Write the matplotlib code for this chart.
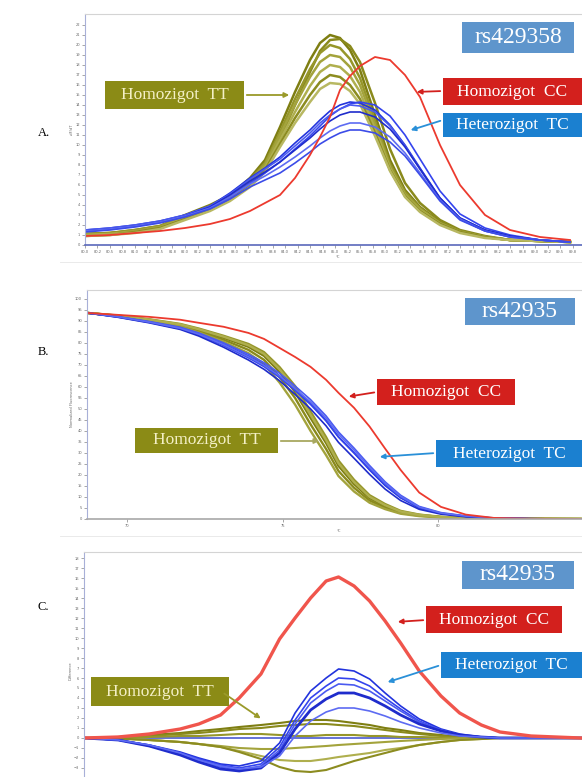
import numpy as np
import matplotlib
matplotlib.use('Agg')
from matplotlib import pyplot as plt
from matplotlib.patches import Rectangle, FancyArrowPatch

W, H = 582, 777

# ---------- panel A : derivative melt curves, rs429358
temp_a = [80.0, 80.5, 81.0, 81.5, 82.0, 82.5, 82.9, 83.3, 83.6, 83.9, 84.2, 84.5, 84.7, 84.9,
          85.1, 85.3, 85.5, 85.8, 86.1, 86.4, 86.7, 87.1, 87.5, 88.0, 88.5, 89.1, 89.7]
tt_a = [
    [1.1, 1.2, 1.5, 1.9, 3.0, 4.0, 5.0, 6.7, 8.5, 11.8, 15.3, 18.5, 20.2, 21.0, 20.7, 19.5, 17.5, 13.0, 8.5, 5.5, 3.8, 2.3, 1.4, 0.8, 0.5, 0.4, 0.3],
    [1.1, 1.2, 1.4, 1.8, 2.7, 3.7, 4.6, 6.1, 7.8, 10.6, 14.0, 17.3, 19.4, 20.5, 20.6, 19.9, 18.3, 14.2, 9.6, 6.2, 4.2, 2.5, 1.5, 0.9, 0.5, 0.4, 0.3],
    [1.1, 1.2, 1.5, 1.9, 2.9, 3.9, 4.9, 6.5, 8.2, 11.3, 14.6, 17.6, 19.2, 20.0, 19.7, 18.6, 16.7, 12.4, 8.1, 5.3, 3.7, 2.2, 1.4, 0.8, 0.5, 0.4, 0.3],
    [1.0, 1.1, 1.4, 1.8, 2.8, 3.8, 4.8, 6.4, 8.0, 11.0, 14.0, 16.8, 18.3, 19.0, 18.8, 17.8, 16.0, 12.0, 7.8, 5.1, 3.6, 2.2, 1.3, 0.8, 0.5, 0.4, 0.3],
    [1.0, 1.1, 1.3, 1.7, 2.7, 3.6, 4.6, 6.1, 7.7, 10.5, 13.3, 15.9, 17.3, 18.0, 17.8, 16.9, 15.3, 11.6, 7.7, 5.0, 3.5, 2.1, 1.3, 0.8, 0.5, 0.4, 0.3],
    [0.9, 1.0, 1.3, 1.7, 2.6, 3.5, 4.5, 6.0, 7.5, 10.1, 12.7, 15.0, 16.3, 17.0, 16.8, 16.0, 14.6, 11.2, 7.5, 4.9, 3.4, 2.1, 1.3, 0.8, 0.5, 0.4, 0.3],
    [0.9, 1.0, 1.2, 1.6, 2.5, 3.4, 4.4, 5.8, 7.3, 9.8, 12.2, 14.3, 15.6, 16.2, 16.1, 15.4, 14.1, 10.9, 7.4, 4.8, 3.3, 2.0, 1.2, 0.7, 0.5, 0.4, 0.3],
]
tc_a = [
    [1.5, 1.7, 2.0, 2.4, 3.0, 3.9, 5.2, 6.7, 7.7, 8.8, 10.2, 11.5, 12.5, 13.4, 14.0, 14.3, 14.2, 13.5, 12.0, 10.0, 7.7, 4.7, 2.7, 1.5, 0.9, 0.5, 0.3],
    [1.4, 1.6, 1.9, 2.3, 2.9, 3.7, 4.8, 6.2, 7.2, 8.3, 9.6, 10.9, 11.9, 12.9, 13.6, 14.1, 14.3, 14.0, 12.9, 11.0, 8.6, 5.4, 3.1, 1.7, 1.0, 0.5, 0.3],
    [1.5, 1.7, 2.0, 2.4, 3.0, 3.9, 5.1, 6.6, 7.6, 8.6, 9.9, 11.2, 12.2, 13.0, 13.6, 14.0, 13.9, 13.3, 11.9, 9.9, 7.6, 4.6, 2.6, 1.4, 0.8, 0.5, 0.3],
    [1.4, 1.6, 1.9, 2.3, 2.9, 3.8, 5.0, 6.4, 7.3, 8.3, 9.5, 10.7, 11.6, 12.4, 13.0, 13.3, 13.3, 12.8, 11.6, 9.8, 7.6, 4.7, 2.7, 1.5, 0.9, 0.5, 0.3],
    [1.4, 1.6, 1.9, 2.3, 2.9, 3.7, 4.8, 6.1, 6.9, 7.8, 8.8, 9.9, 10.7, 11.4, 11.9, 12.2, 12.2, 11.8, 10.8, 9.2, 7.2, 4.5, 2.6, 1.4, 0.8, 0.5, 0.3],
    [1.3, 1.5, 1.8, 2.2, 2.8, 3.6, 4.6, 5.8, 6.5, 7.2, 8.2, 9.3, 10.1, 10.7, 11.2, 11.5, 11.5, 11.2, 10.3, 8.9, 7.0, 4.4, 2.5, 1.4, 0.8, 0.5, 0.3],
]
cc_a = [0.9, 1.0, 1.2, 1.4, 1.7, 2.1, 2.6, 3.4, 4.2, 5.0, 6.7, 9.0, 10.8, 12.8, 15.5, 16.9, 17.9, 18.8, 18.5, 17.0, 14.8, 10.0, 6.0, 3.0, 1.5, 0.8, 0.5]

# ---------- panel B : normalized melt curves, rs42935
temp_b = [68.7, 69.7, 70.7, 71.7, 72.3, 73.1, 73.9, 74.4, 74.9, 75.4, 75.9, 76.4,
          76.8, 77.3, 77.8, 78.3, 78.8, 79.4, 80.1, 80.9, 81.8, 83.0, 84.6]
tt_b = [
    [93.6, 92.3, 90.5, 88.2, 85.9, 82.3, 78.2, 74.1, 66.8, 57.7, 45.9, 34.5, 24.1, 15.9, 9.5, 5.9, 3.2, 1.8, 0.9, 0.5, 0.2, 0.1, 0.0],
    [93.6, 92.2, 90.3, 87.8, 85.3, 81.4, 76.8, 72.3, 64.5, 55.0, 43.0, 31.8, 21.8, 14.2, 8.4, 5.1, 2.8, 1.5, 0.8, 0.4, 0.2, 0.1, 0.0],
    [93.6, 92.4, 90.7, 88.6, 86.5, 83.2, 79.5, 75.8, 69.0, 60.4, 48.8, 37.2, 26.5, 17.8, 10.8, 6.8, 3.7, 2.0, 1.0, 0.5, 0.2, 0.1, 0.0],
    [93.6, 92.1, 90.1, 87.4, 84.7, 80.5, 75.3, 70.4, 62.0, 52.0, 40.0, 29.0, 19.5, 12.5, 7.4, 4.5, 2.4, 1.3, 0.7, 0.3, 0.1, 0.0, 0.0],
    [93.6, 92.3, 90.6, 88.4, 86.2, 82.8, 78.9, 75.0, 68.0, 59.0, 47.3, 35.8, 25.3, 16.8, 10.1, 6.3, 3.4, 1.9, 0.9, 0.4, 0.2, 0.1, 0.0],
]
tc_b = [
    [93.6, 91.8, 89.5, 86.8, 84.1, 79.5, 74.0, 70.0, 65.0, 59.0, 52.5, 44.8, 37.3, 30.0, 22.3, 15.2, 9.6, 5.0, 2.5, 1.2, 0.4, 0.1, 0.0],
    [93.6, 91.7, 89.3, 86.4, 83.6, 78.8, 73.2, 69.2, 64.3, 58.4, 52.0, 44.5, 37.2, 30.1, 22.6, 15.6, 9.9, 5.2, 2.6, 1.2, 0.4, 0.1, 0.0],
    [93.6, 91.9, 89.7, 87.1, 84.5, 80.0, 74.8, 71.0, 66.2, 60.4, 54.2, 46.8, 39.5, 32.2, 24.3, 16.9, 10.8, 5.7, 2.9, 1.4, 0.5, 0.1, 0.0],
    [93.6, 91.6, 89.1, 86.1, 83.1, 78.0, 72.2, 68.0, 62.8, 56.6, 50.0, 42.3, 34.8, 27.6, 20.3, 13.6, 8.4, 4.4, 2.2, 1.0, 0.3, 0.1, 0.0],
    [93.6, 91.8, 89.4, 86.6, 83.9, 79.2, 73.7, 69.8, 65.0, 59.2, 53.1, 45.8, 38.5, 31.3, 23.6, 16.3, 10.3, 5.4, 2.7, 1.3, 0.4, 0.1, 0.0],
]
cc_b = [93.6, 92.7, 91.8, 90.5, 89.1, 87.3, 84.5, 81.8, 77.7, 73.6, 69.1, 63.2, 57.3, 50.5, 42.0, 32.0, 22.3, 12.0, 5.5, 2.0, 0.5, 0.1, 0.0]

# ---------- panel C : difference curves, rs42935
temp_c = [68.6, 69.7, 70.7, 71.7, 72.3, 73.0, 73.6, 74.3, 74.9, 75.4, 75.9, 76.4,
          76.8, 77.3, 77.8, 78.3, 78.8, 79.4, 80.1, 80.7, 81.4, 82.0, 83.0, 84.6]
tt_c = [
    [0, 0.1, 0.3, 0.5, 0.7, 0.9, 1.1, 1.3, 1.5, 1.7, 1.8, 1.8, 1.7, 1.5, 1.3, 1.0, 0.8, 0.5, 0.3, 0.1, 0.05, 0, 0, 0],
    [0, 0.05, 0.2, 0.4, 0.5, 0.7, 0.9, 1.0, 1.2, 1.3, 1.4, 1.4, 1.3, 1.2, 1.0, 0.8, 0.6, 0.4, 0.2, 0.1, 0, 0, 0, 0],
    [0, 0, 0.1, 0.2, 0.2, 0.3, 0.4, 0.4, 0.3, 0.2, 0.2, 0.3, 0.3, 0.3, 0.2, 0.2, 0.1, 0.1, 0.05, 0, 0, 0, 0, 0],
    [0, -0.05, -0.2, -0.4, -0.6, -0.8, -1.0, -1.1, -1.1, -1.0, -0.9, -0.8, -0.7, -0.6, -0.5, -0.4, -0.3, -0.2, -0.1, -0.05, 0, 0, 0, 0],
    [0, -0.05, -0.2, -0.4, -0.6, -0.9, -1.3, -1.8, -2.2, -2.3, -2.3, -2.1, -1.9, -1.7, -1.5, -1.2, -1.0, -0.7, -0.4, -0.2, -0.1, 0, 0, 0],
    [0, -0.05, -0.2, -0.4, -0.6, -0.9, -1.4, -2.1, -2.9, -3.3, -3.4, -3.2, -2.8, -2.3, -1.9, -1.5, -1.1, -0.7, -0.4, -0.2, -0.1, 0, 0, 0],
]
tc_c = [
    [0, -0.2, -0.7, -1.4, -2.0, -2.6, -2.8, -2.3, -0.5, 2.5, 4.7, 6.0, 6.9, 6.7, 5.9, 4.5, 3.2, 1.9, 0.9, 0.4, 0.1, 0, 0, 0],
    [0, -0.2, -0.7, -1.5, -2.1, -2.7, -3.0, -2.6, -0.9, 1.8, 4.0, 5.2, 6.0, 5.9, 5.2, 4.0, 2.9, 1.7, 0.8, 0.3, 0.1, 0, 0, 0],
    [0, -0.2, -0.8, -1.6, -2.3, -2.9, -3.2, -2.8, -1.2, 1.4, 3.5, 4.7, 5.4, 5.3, 4.7, 3.7, 2.7, 1.6, 0.8, 0.3, 0.1, 0, 0, 0],
    [0, -0.2, -0.8, -1.7, -2.4, -3.1, -3.3, -3.0, -1.5, 0.9, 2.8, 3.9, 4.5, 4.5, 4.0, 3.2, 2.3, 1.4, 0.7, 0.3, 0.1, 0, 0, 0],
    [0, -0.2, -0.7, -1.5, -2.2, -2.8, -3.1, -2.9, -1.8, 0.2, 1.7, 2.6, 3.0, 3.0, 2.7, 2.2, 1.6, 1.0, 0.5, 0.2, 0.1, 0, 0, 0],
]
cc_c = [0.0, 0.1, 0.4, 0.9, 1.4, 2.3, 4.0, 6.4, 9.9, 12.0, 14.0, 15.7, 16.1, 15.2, 13.7, 11.7, 9.5, 6.7, 4.2, 2.5, 1.3, 0.6, 0.2, 0.0]

olive = ['#7e7e12', '#8a8a1c', '#96962a', '#a3a33c', '#afaf4e', '#8c8c20', '#b8b862']
blues = ['#2233dd', '#3444ee', '#4a5af0', '#1f2ccc', '#5d6bf2', '#3c4ce8']
red = '#ec3a2e'
box_tt, box_cc, box_tc, box_rs = '#8b8b16', '#d3201d', '#1b80d0', '#5e95cc'

fig = plt.figure(figsize=(W / 100, H / 100), dpi=100)


def axes_px(left, top, right, bottom):
    return fig.add_axes([left / W, 1 - bottom / H, (right - left) / W, (bottom - top) / H])


def style(ax, bottom_color):
    ax.spines['right'].set_visible(False)
    ax.spines['top'].set_color('#d4d4d4')
    ax.spines['left'].set_color('#a8b0d8')
    ax.spines['bottom'].set_color(bottom_color)
    ax.spines['bottom'].set_linewidth(1.2)
    ax.tick_params(labelsize=2.6, colors='#666666', length=2, width=0.4, pad=1.5)


def box(x0, y0, x1, y1, color, text, tcolor='white', size=12.5):
    fig.add_artist(Rectangle((x0 / W, 1 - y1 / H), (x1 - x0) / W, (y1 - y0) / H,
                             transform=fig.transFigure, facecolor=color, edgecolor='none'))
    fig.text((x0 + x1) / 2 / W, 1 - (y0 + y1) / 2 / H, text, color=tcolor, fontsize=size,
             family='Liberation Serif', ha='center', va='center')


def arrow(x0, y0, x1, y1, color):
    fig.add_artist(FancyArrowPatch((x0 / W, 1 - y0 / H), (x1 / W, 1 - y1 / H),
                                   transform=fig.transFigure, arrowstyle='-|>',
                                   mutation_scale=7, color=color, lw=1.3))


# panel A
axA = axes_px(85, 14, 590, 245)
for i, c in enumerate(tt_a):
    axA.plot(temp_a, c, color=olive[i], lw=1.8)
for i, c in enumerate(tc_a):
    axA.plot(temp_a, c, color=blues[i], lw=1.2)
axA.plot(temp_a, cc_a, color=red, lw=1.3)
axA.set_xlim(80.0, 90.1)
axA.set_ylim(0, 23.1)
axA.set_xticks(np.arange(80.0, 89.9, 0.25))
axA.set_xticklabels(['%.1f' % t for t in np.arange(80.0, 89.9, 0.25)])
axA.set_yticks(np.arange(0, 23, 1))
axA.set_xlabel('°C', fontsize=2.6, labelpad=1, color='#666666')
axA.set_ylabel('-dF/dT', fontsize=2.6, labelpad=1, color='#666666')
style(axA, '#5a68bb')

# panel B
axB = axes_px(87, 290, 590, 519)
for i, c in enumerate(tt_b):
    axB.plot(temp_b, c, color=olive[i], lw=1.7)
for i, c in enumerate(tc_b):
    axB.plot(temp_b, c, color=blues[i], lw=1.2)
axB.plot(temp_b, cc_b, color=red, lw=1.3)
axB.set_xlim(68.7, 84.9)
axB.set_ylim(0, 104)
axB.set_xticks([70, 75, 80])
axB.set_yticks(np.arange(0, 105, 5))
axB.set_xlabel('°C', fontsize=2.6, labelpad=1, color='#666666')
axB.set_ylabel('Normalized Fluorescence', fontsize=2.6, labelpad=1, color='#666666')
style(axB, '#a8a8a8')

# panel C (its x axis lies below the picture's edge)
axC = axes_px(84, 552, 590, 790)
axC.axhline(0, color='#4a5ad0', lw=1.2)
for i, c in enumerate(tt_c):
    axC.plot(temp_c, c, color=olive[i], lw=1.5)
for i, c in enumerate(tc_c):
    axC.plot(temp_c, c, color=blues[i], lw=2.0 if i == 3 else 1.2)
axC.plot(temp_c, cc_c, color='#f0554c', lw=2.4)
axC.set_xlim(68.6, 84.9)
axC.set_ylim(-5.2, 18.6)
axC.set_xticks([])
axC.set_yticks(np.arange(-3, 19, 1))
axC.set_ylabel('Difference', fontsize=2.6, labelpad=1, color='#666666')
style(axC, '#a8a8a8')

# labels, boxes and arrows
for lab, py in [('A.', 133), ('B.', 352), ('C.', 607)]:
    fig.text(38 / W, 1 - py / H, lab, fontsize=9, family='Liberation Serif', va='center')

box(462, 22, 574, 53, box_rs, 'rs429358', size=17)
box(105, 81, 244, 109, box_tt, 'Homozigot  TT', tcolor='#f4f0c6')
box(443, 78, 582, 105, box_cc, 'Homozigot  CC')
box(443, 113, 582, 137, box_tc, 'Heterozigot  TC')
arrow(244, 95, 292, 95, '#9a9a2a')
arrow(443, 91, 414, 92, box_cc)
arrow(443, 120, 408, 131, '#2a90d8')

box(465, 298, 575, 325, box_rs, 'rs42935', size=17)
box(377, 379, 515, 405, box_cc, 'Homozigot  CC')
box(135, 428, 278, 453, box_tt, 'Homozigot  TT', tcolor='#f4f0c6')
box(436, 440, 582, 467, box_tc, 'Heterozigot  TC')
arrow(377, 392, 346, 397, box_cc)
arrow(278, 441, 322, 441, '#a8a860')
arrow(436, 453, 377, 457, '#2a90d8')

box(462, 561, 574, 589, box_rs, 'rs42935', size=17)
box(426, 606, 562, 633, box_cc, 'Homozigot  CC')
box(441, 652, 582, 678, box_tc, 'Heterozigot  TC')
box(91, 677, 229, 706, box_tt, 'Homozigot  TT', tcolor='#f4f0c6')
arrow(426, 620, 395, 622, box_cc)
arrow(441, 665, 385, 683, '#2a90d8')
arrow(222, 692, 263, 720, '#9a9a2a')

# faint separators between panels
fig.add_artist(plt.Line2D([60 / W, 1], [1 - 262 / H] * 2, transform=fig.transFigure, color='#e6e6e6', lw=0.6))
fig.add_artist(plt.Line2D([60 / W, 1], [1 - 536 / H] * 2, transform=fig.transFigure, color='#e6e6e6', lw=0.6))

fig.savefig('out.png', dpi=100)
